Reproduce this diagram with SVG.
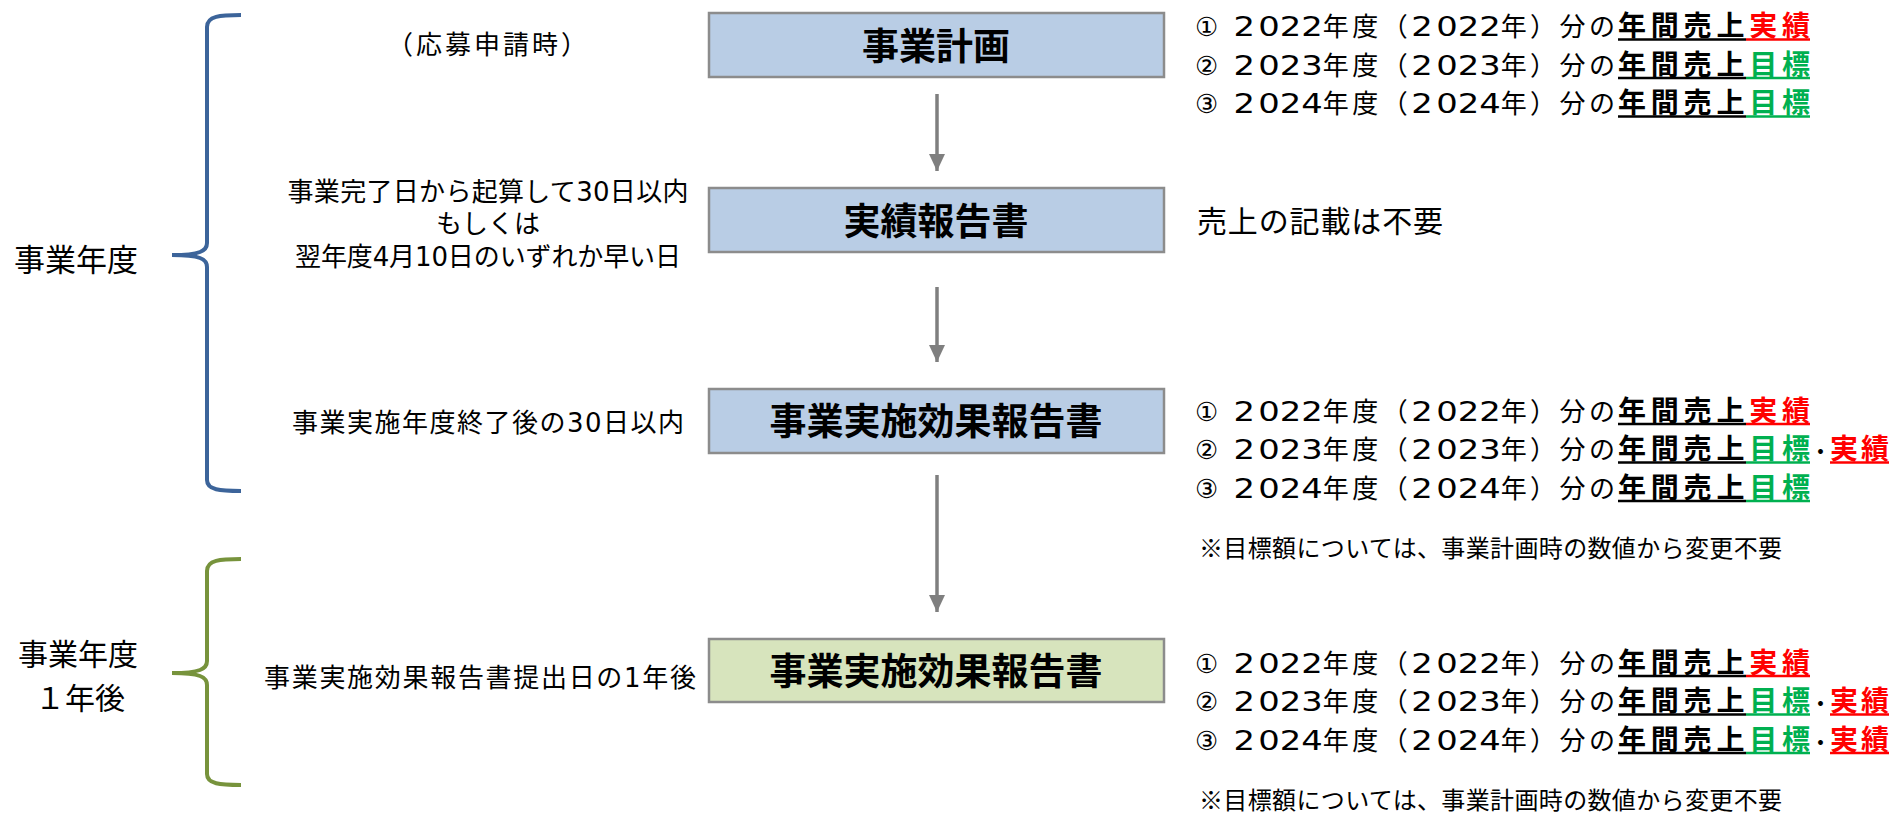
<svg xmlns="http://www.w3.org/2000/svg" width="1893" height="814" viewBox="0 0 1893 814">
<style>
.reg{font-family:"DejaVu Sans","Noto Sans CJK JP",sans-serif;fill:#000}
.jp{font-family:"Noto Sans CJK JP",sans-serif;fill:#000}
.b{font-family:"Noto Sans CJK JP",sans-serif;font-weight:700;fill:#000}
.red{fill:#FF0000}
.grn{fill:#00B050}
.box{stroke:#8C8C8C;stroke-width:2.5}
.blue{fill:#B9CDE5}
.green{fill:#D7E4BD}
.title{font-family:"Noto Sans CJK JP",sans-serif;font-weight:700;font-size:37px;fill:#000;text-anchor:middle}
.brace{fill:none;stroke-width:4;stroke-linecap:butt}
.conn{stroke:#7F7F7F;stroke-width:3.5;fill:none}
.mid{text-anchor:middle}
.li{font-size:26px}
.lb{font-size:28px}
.dot{font-size:19px}
.ul{stroke-width:2.5;stroke:#000}
.ulr{stroke-width:2.5;stroke:#FF0000}
.ulg{stroke-width:2.5;stroke:#00B050}
</style>
<defs>
<marker id="ah2" markerUnits="userSpaceOnUse" markerWidth="17" markerHeight="16" refX="17" refY="8" orient="auto" viewBox="0 0 17 16">
<path d="M0,0 L17,8 L0,16 Z" fill="#7F7F7F"/>
</marker>
</defs>
<rect width="1893" height="814" fill="#FFFFFF"/>

<g id="brace-year">
<path class="brace" stroke="#3C649A" d="M241,15 C220,15 207,16 207,27 L207,243 C207,251 200,255 172,255 C200,255 207,259 207,267 L207,480 C207,490 220,491 241,491"/>
<text class="jp mid" x="76" y="271" font-size="31">事業年度</text>
</g>
<g id="brace-next">
<path class="brace" stroke="#77933C" d="M241,559 C220,559 207,560 207,571 L207,661 C207,669 200,673 172,673 C200,673 207,677 207,685 L207,774 C207,784 220,785 241,785"/>
<text class="jp mid" font-size="30"><tspan x="78" y="665">事業年度</tspan><tspan x="80" y="709">１年後</tspan></text>
</g>

<g id="connectors">
<line class="conn" x1="937" y1="94" x2="937" y2="171" marker-end="url(#ah2)"/>
<line class="conn" x1="937" y1="287" x2="937" y2="362" marker-end="url(#ah2)"/>
<line class="conn" x1="937" y1="475" x2="937" y2="612" marker-end="url(#ah2)"/>
</g>

<g id="node-plan">
<text class="reg mid" x="487" y="54" font-size="26" textLength="200" lengthAdjust="spacing">（応募申請時）</text>
<rect class="box blue" x="709" y="13" width="455" height="64"/>
<text class="title" x="936" y="60">事業計画</text>
<text class="reg li" x="1195" y="36" textLength="420" lengthAdjust="spacing">① <tspan textLength="86" lengthAdjust="spacingAndGlyphs">2022</tspan>年度（<tspan textLength="86" lengthAdjust="spacingAndGlyphs">2022</tspan>年）分の</text>
<text class="b lb" x="1618" y="36" textLength="192" lengthAdjust="spacing">年間売上<tspan class="red">実績</tspan></text>
<text class="reg li" x="1195" y="74.5" textLength="420" lengthAdjust="spacing">② <tspan textLength="86" lengthAdjust="spacingAndGlyphs">2023</tspan>年度（<tspan textLength="86" lengthAdjust="spacingAndGlyphs">2023</tspan>年）分の</text>
<text class="b lb" x="1618" y="74.5" textLength="192" lengthAdjust="spacing">年間売上<tspan class="grn">目標</tspan></text>
<text class="reg li" x="1195" y="113" textLength="420" lengthAdjust="spacing">③ <tspan textLength="86" lengthAdjust="spacingAndGlyphs">2024</tspan>年度（<tspan textLength="86" lengthAdjust="spacingAndGlyphs">2024</tspan>年）分の</text>
<text class="b lb" x="1618" y="113" textLength="192" lengthAdjust="spacing">年間売上<tspan class="grn">目標</tspan></text>
<line class="ul" x1="1618" y1="39.5" x2="1746" y2="39.5"/><line class="ulr" x1="1746" y1="39.5" x2="1810" y2="39.5"/>
<line class="ul" x1="1618" y1="78" x2="1746" y2="78"/><line class="ulg" x1="1746" y1="78" x2="1810" y2="78"/>
<line class="ul" x1="1618" y1="116.5" x2="1746" y2="116.5"/><line class="ulg" x1="1746" y1="116.5" x2="1810" y2="116.5"/>
</g>

<g id="node-result">
<text class="reg mid" x="488" y="201" font-size="26" textLength="401" lengthAdjust="spacing">事業完了日から起算して30日以内</text>
<text class="reg mid" x="488" y="233" font-size="26">もしくは</text>
<text class="reg mid" x="488" y="266" font-size="26" textLength="386" lengthAdjust="spacing">翌年度4月10日のいずれか早い日</text>
<rect class="box blue" x="709" y="188" width="455" height="64"/>
<text class="title" x="936" y="235">実績報告書</text>
<text class="jp" x="1197" y="232" font-size="30" textLength="246" lengthAdjust="spacing">売上の記載は不要</text>
</g>

<g id="node-effect">
<text class="reg mid" x="488" y="432" font-size="26" textLength="392" lengthAdjust="spacing">事業実施年度終了後の30日以内</text>
<rect class="box blue" x="709" y="389" width="455" height="64"/>
<text class="title" x="936" y="435">事業実施効果報告書</text>
<text class="reg li" x="1195" y="420.5" textLength="420" lengthAdjust="spacing">① <tspan textLength="86" lengthAdjust="spacingAndGlyphs">2022</tspan>年度（<tspan textLength="86" lengthAdjust="spacingAndGlyphs">2022</tspan>年）分の</text>
<text class="b lb" x="1618" y="420.5" textLength="192" lengthAdjust="spacing">年間売上<tspan class="red">実績</tspan></text>
<text class="reg li" x="1195" y="459" textLength="420" lengthAdjust="spacing">② <tspan textLength="86" lengthAdjust="spacingAndGlyphs">2023</tspan>年度（<tspan textLength="86" lengthAdjust="spacingAndGlyphs">2023</tspan>年）分の</text>
<text class="b lb" x="1618" y="459" textLength="192" lengthAdjust="spacing">年間売上<tspan class="grn">目標</tspan></text>
<text class="b lb" x="1811" y="459"><tspan class="dot">・</tspan><tspan class="red" letter-spacing="3">実績</tspan></text>
<text class="reg li" x="1195" y="497.5" textLength="420" lengthAdjust="spacing">③ <tspan textLength="86" lengthAdjust="spacingAndGlyphs">2024</tspan>年度（<tspan textLength="86" lengthAdjust="spacingAndGlyphs">2024</tspan>年）分の</text>
<text class="b lb" x="1618" y="497.5" textLength="192" lengthAdjust="spacing">年間売上<tspan class="grn">目標</tspan></text>
<line class="ul" x1="1618" y1="424" x2="1746" y2="424"/><line class="ulr" x1="1746" y1="424" x2="1810" y2="424"/>
<line class="ul" x1="1618" y1="462.5" x2="1746" y2="462.5"/><line class="ulg" x1="1746" y1="462.5" x2="1810" y2="462.5"/><line class="ulr" x1="1830" y1="462.5" x2="1889" y2="462.5"/>
<line class="ul" x1="1618" y1="501" x2="1746" y2="501"/><line class="ulg" x1="1746" y1="501" x2="1810" y2="501"/>
<text class="jp" x="1199" y="557" font-size="24" textLength="583" lengthAdjust="spacing">※目標額については、事業計画時の数値から変更不要</text>
</g>

<g id="node-effect-next">
<text class="reg mid" x="480" y="687" font-size="26" textLength="432" lengthAdjust="spacing">事業実施効果報告書提出日の1年後</text>
<rect class="box green" x="709" y="639" width="455" height="63"/>
<text class="title" x="936" y="685">事業実施効果報告書</text>
<text class="reg li" x="1195" y="672.5" textLength="420" lengthAdjust="spacing">① <tspan textLength="86" lengthAdjust="spacingAndGlyphs">2022</tspan>年度（<tspan textLength="86" lengthAdjust="spacingAndGlyphs">2022</tspan>年）分の</text>
<text class="b lb" x="1618" y="672.5" textLength="192" lengthAdjust="spacing">年間売上<tspan class="red">実績</tspan></text>
<text class="reg li" x="1195" y="711" textLength="420" lengthAdjust="spacing">② <tspan textLength="86" lengthAdjust="spacingAndGlyphs">2023</tspan>年度（<tspan textLength="86" lengthAdjust="spacingAndGlyphs">2023</tspan>年）分の</text>
<text class="b lb" x="1618" y="711" textLength="192" lengthAdjust="spacing">年間売上<tspan class="grn">目標</tspan></text>
<text class="b lb" x="1811" y="711"><tspan class="dot">・</tspan><tspan class="red" letter-spacing="3">実績</tspan></text>
<text class="reg li" x="1195" y="749.5" textLength="420" lengthAdjust="spacing">③ <tspan textLength="86" lengthAdjust="spacingAndGlyphs">2024</tspan>年度（<tspan textLength="86" lengthAdjust="spacingAndGlyphs">2024</tspan>年）分の</text>
<text class="b lb" x="1618" y="749.5" textLength="192" lengthAdjust="spacing">年間売上<tspan class="grn">目標</tspan></text>
<text class="b lb" x="1811" y="749.5"><tspan class="dot">・</tspan><tspan class="red" letter-spacing="3">実績</tspan></text>
<line class="ul" x1="1618" y1="676" x2="1746" y2="676"/><line class="ulr" x1="1746" y1="676" x2="1810" y2="676"/>
<line class="ul" x1="1618" y1="714.5" x2="1746" y2="714.5"/><line class="ulg" x1="1746" y1="714.5" x2="1810" y2="714.5"/><line class="ulr" x1="1830" y1="714.5" x2="1889" y2="714.5"/>
<line class="ul" x1="1618" y1="753" x2="1746" y2="753"/><line class="ulg" x1="1746" y1="753" x2="1810" y2="753"/><line class="ulr" x1="1830" y1="753" x2="1889" y2="753"/>
<text class="jp" x="1199" y="809" font-size="24" textLength="583" lengthAdjust="spacing">※目標額については、事業計画時の数値から変更不要</text>
</g>
</svg>
